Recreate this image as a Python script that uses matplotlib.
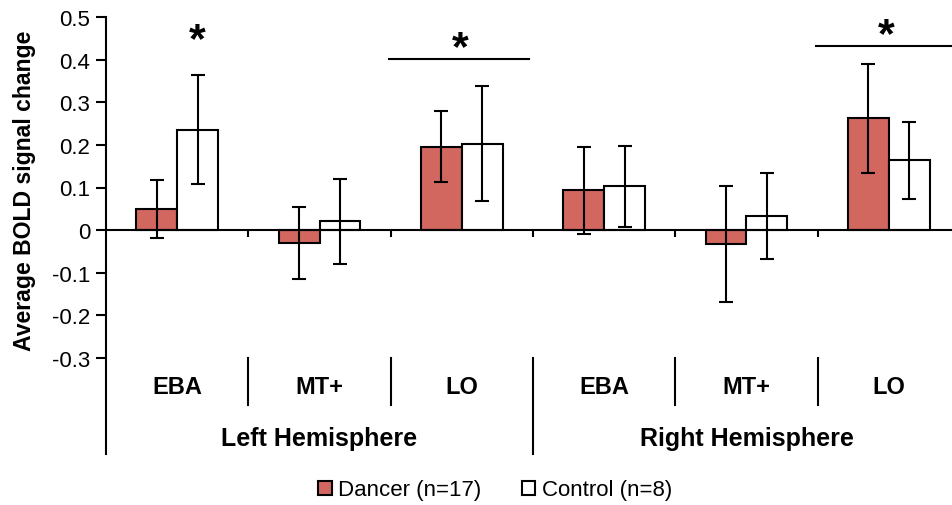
import matplotlib
matplotlib.use("Agg")
import matplotlib.pyplot as plt
from matplotlib.patches import Patch

plt.rcParams["font.family"] = ["Liberation Sans", "DejaVu Sans"]

# ==========================================
# DATA
# ==========================================

regions = ["EBA", "MT+", "LO", "EBA", "MT+", "LO"]
hemispheres = ["Left Hemisphere", "Right Hemisphere"]

dancer_mean = [0.049, -0.030, 0.196, 0.093, -0.033, 0.262]
dancer_err = [0.068, 0.084, 0.084, 0.103, 0.136, 0.128]

control_mean = [0.236, 0.021, 0.203, 0.103, 0.033, 0.164]
control_err = [0.128, 0.100, 0.134, 0.095, 0.101, 0.090]

yticks = [0.5, 0.4, 0.3, 0.2, 0.1, 0, -0.1, -0.2, -0.3]
ytick_labels = ["0.5", "0.4", "0.3", "0.2", "0.1", "0", "-0.1", "-0.2", "-0.3"]

DANCER_COLOR = "#D1675F"

# ==========================================
# FIGURE
# ==========================================

fig = plt.figure(figsize=(9.52, 5.06), dpi=100)
ax = fig.add_axes([106 / 952, 1 - 359 / 506, 854 / 952, 341 / 506])

x = list(range(len(regions)))
w = 0.288

ax.bar(
    [i - w / 2 for i in x], dancer_mean, w,
    color=DANCER_COLOR, edgecolor="black", linewidth=1.5, zorder=2
)
ax.bar(
    [i + w / 2 for i in x], control_mean, w,
    color="white", edgecolor="black", linewidth=1.5, zorder=2
)
ax.errorbar(
    [i - w / 2 for i in x], dancer_mean, yerr=dancer_err,
    fmt="none", ecolor="black", elinewidth=1.5, capsize=4.8, capthick=1.5, zorder=3
)
ax.errorbar(
    [i + w / 2 for i in x], control_mean, yerr=control_err,
    fmt="none", ecolor="black", elinewidth=1.5, capsize=4.8, capthick=1.5, zorder=3
)

ax.set_xlim(-0.5, 5.5)
ax.set_ylim(-0.3, 0.5)

# ==========================================
# AXES STYLE
# ==========================================

ax.spines["top"].set_visible(False)
ax.spines["right"].set_visible(False)
ax.spines["left"].set_visible(False)
ax.spines["bottom"].set_position(("data", 0))
ax.spines["bottom"].set_linewidth(1.5)

ax.set_xticks([0.5, 1.5, 2.5, 3.5, 4.5])
ax.set_xticklabels([])
ax.tick_params(axis="x", direction="out", length=5, width=1.5)

ax.set_yticks(yticks)
ax.set_yticklabels(ytick_labels)
ax.tick_params(axis="y", direction="out", length=7, width=1.5, labelsize=16, pad=4.5)

y_low = -0.526
ax.plot([-0.5, -0.5], [0.5, y_low], color="black", lw=1.5, clip_on=False, zorder=4)

for b in [0.5, 1.5, 3.5, 4.5]:
    ax.plot([b, b], [-0.3, -0.411], color="black", lw=1.5, clip_on=False)
ax.plot([2.5, 2.5], [-0.3, y_low], color="black", lw=1.5, clip_on=False)

for i, r in enumerate(regions):
    ax.text(i, -0.368, r, ha="center", va="center",
            fontsize=17, fontweight="bold", clip_on=False)

ax.text(1, -0.487, hemispheres[0], ha="center", va="center",
        fontsize=18, fontweight="bold", clip_on=False)
ax.text(4, -0.487, hemispheres[1], ha="center", va="center",
        fontsize=18, fontweight="bold", clip_on=False)

fig.text(25 / 952, 1 - 191 / 506, "Average BOLD signal change",
         rotation=90, ha="center", va="center", fontsize=16.6, fontweight="bold")

# ==========================================
# SIGNIFICANCE
# ==========================================

ax.text(0.139, 0.445, "*", ha="center", va="center", fontsize=31, fontweight="bold")

ax.plot([1.489, 2.473], [0.402, 0.402], color="black", lw=1.5)
ax.text(1.99, 0.428, "*", ha="center", va="center", fontsize=31, fontweight="bold")

ax.plot([4.49, 5.5], [0.432, 0.432], color="black", lw=1.5, clip_on=False)
ax.text(4.98, 0.458, "*", ha="center", va="center", fontsize=31, fontweight="bold")

# ==========================================
# LEGEND
# ==========================================

handles = [
    Patch(facecolor=DANCER_COLOR, edgecolor="black", linewidth=1.5, label="Dancer (n=17)"),
    Patch(facecolor="white", edgecolor="black", linewidth=1.5, label="Control (n=8)"),
]
fig.legend(
    handles=handles, loc="center", bbox_to_anchor=(495 / 952, 1 - 491 / 506),
    ncol=2, frameon=False, fontsize=16, handlelength=0.6, handleheight=0.6,
    handletextpad=0.3, columnspacing=1.8
)

fig.savefig("out.png", dpi=100)
